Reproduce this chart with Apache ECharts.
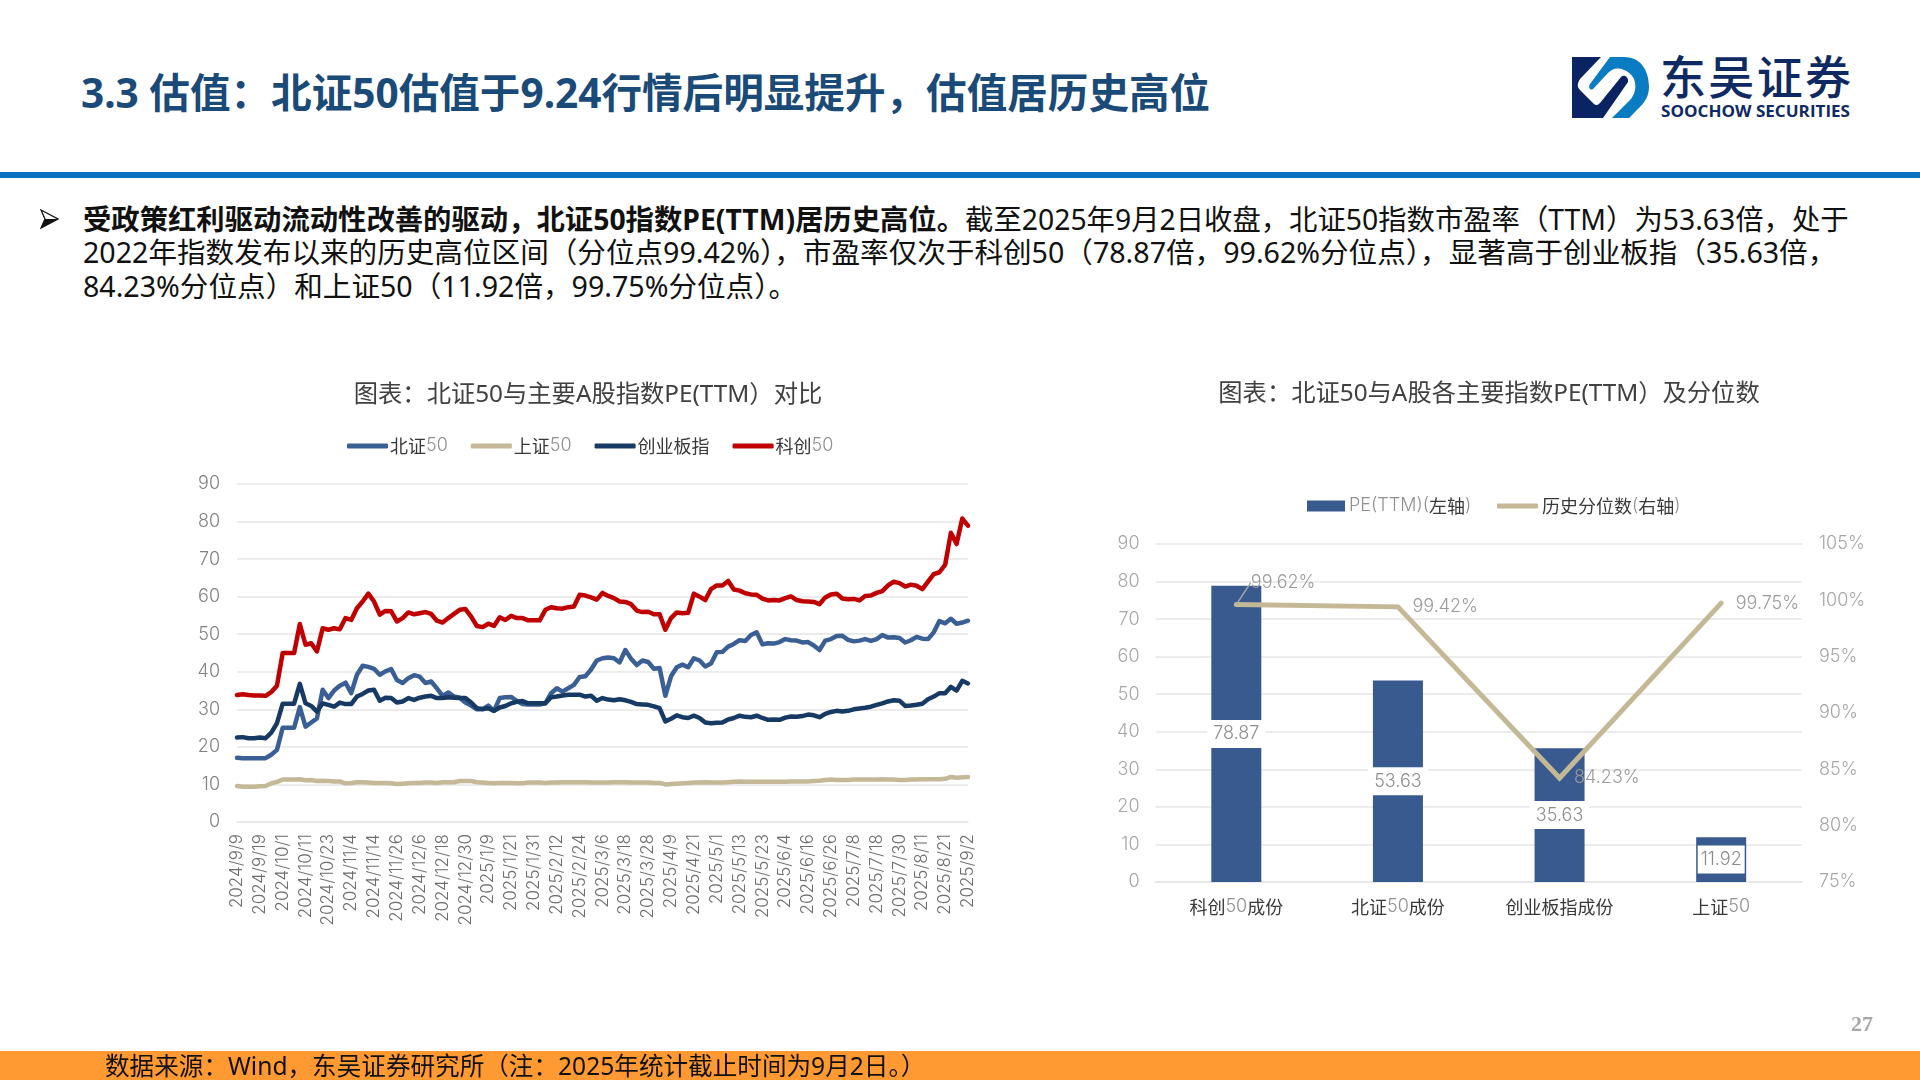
<!DOCTYPE html>
<html>
<head>
<meta charset="utf-8">
<script src="https://cdn.jsdelivr.net/npm/echarts@6/dist/echarts.min.js"></script>
<style>
html,body{margin:0;padding:0;background:#fff;width:1920px;height:1080px;overflow:hidden;}
.t{position:absolute;white-space:nowrap;font-family:"Noto Sans","Noto Sans CJK SC",sans-serif;color:#111;}
#chart{position:absolute;left:0;top:0;width:1920px;height:1080px;}
</style>
</head>
<body>
<div class="t" id="head" style="left:81px;top:64px;font-size:40.6px;line-height:58px;font-weight:700;color:#1a4a78;">3.3 估值：北证50估值于9.24行情后明显提升，估值居历史高位</div>
<div style="position:absolute;left:0;top:172px;width:1920px;height:6px;background:#0a70c0;"></div>
<svg style="position:absolute;left:1572px;top:54px" width="282" height="68" viewBox="0 0 282 68">
  <g transform="translate(0,3)">
    <path fill="#0a2463" d="M0,0 H29 L8,22 C5,27 5,30 8,33 L22,47 C24,49 26,48 28,46 L49,20 C52,17 57,20 56,25 L31,61 H0 Z"/>
    <path fill="#0a7cc1" d="M38,0 H52 C70,0 77,15 77,30 C77,42 70,48 62,56 L57,61 H40 L58,43 C66,35 66,18 52,13 C45,10 40,12 36,16 L21,32 C18,34 16,30 18,27 Z"/>
  </g>
  <text x="88" y="40" textLength="191" lengthAdjust="spacing" font-family="Noto Sans CJK SC" font-size="46" font-weight="500" fill="#0f2a62">东吴证券</text>
  <text x="89" y="63" textLength="189" lengthAdjust="spacingAndGlyphs" font-family="Open Sans" font-size="16.5" font-weight="700" fill="#0f2a62">SOOCHOW SECURITIES</text>
</svg>
<svg style="position:absolute;left:40px;top:209px" width="19" height="20" viewBox="0 0 19 20">
  <path d="M1,1 L18,10 L1,19 L5,10 Z" fill="#fff" stroke="#111" stroke-width="1.3" stroke-linejoin="miter"/>
  <path d="M1,19 L18,10 L5,10 Z" fill="#111"/>
</svg>
<div class="t" style="left:83px;top:202px;font-size:28.35px;line-height:34px;"><b>受政策红利驱动流动性改善的驱动，北证50指数PE(TTM)居历史高位。</b>截至2025年9月2日收盘，北证50指数市盈率（TTM）为53.63倍，处于</div>
<div class="t" style="left:83px;top:235px;font-size:28.6px;line-height:34px;">2022年指数发布以来的历史高位区间（分位点99.42%），市盈率仅次于科创50（78.87倍，99.62%分位点），显著高于创业板指（35.63倍，</div>
<div class="t" style="left:83px;top:269px;font-size:28.6px;line-height:34px;">84.23%分位点）和上证50（11.92倍，99.75%分位点）。</div>
<div id="chart"></div>
<div class="t" style="left:1851px;top:1010px;font-size:22px;line-height:28px;font-family:'Liberation Serif';font-weight:700;color:#a6a6a6;">27</div>
<div style="position:absolute;left:0;top:1051px;width:1920px;height:29px;background:#ff9a33;"></div>
<div class="t" style="left:105px;top:1049px;font-size:24.6px;line-height:34px;">数据来源：Wind，东吴证券研究所（注：2025年统计截止时间为9月2日。）</div>
<script>
const dates = [
  '2024/9/9','2024/9/11','2024/9/13','2024/9/17','2024/9/19','2024/9/23','2024/9/25','2024/9/27',
  '2024/10/1','2024/10/3','2024/10/7','2024/10/9','2024/10/11','2024/10/15','2024/10/17','2024/10/21',
  '2024/10/23','2024/10/25','2024/10/29','2024/10/31','2024/11/4','2024/11/6','2024/11/8','2024/11/12',
  '2024/11/14','2024/11/18','2024/11/20','2024/11/22','2024/11/26','2024/11/28','2024/12/2','2024/12/4',
  '2024/12/6','2024/12/10','2024/12/12','2024/12/16','2024/12/18','2024/12/20','2024/12/24','2024/12/26',
  '2024/12/30','2025/1/1','2025/1/3','2025/1/7','2025/1/9','2025/1/13','2025/1/15','2025/1/17',
  '2025/1/21','2025/1/23','2025/1/27','2025/1/29','2025/1/31','2025/2/4','2025/2/6','2025/2/10',
  '2025/2/12','2025/2/14','2025/2/18','2025/2/20','2025/2/24','2025/2/26','2025/2/28','2025/3/4',
  '2025/3/6','2025/3/10','2025/3/12','2025/3/14','2025/3/18','2025/3/20','2025/3/24','2025/3/26',
  '2025/3/28','2025/4/1','2025/4/3','2025/4/7','2025/4/9','2025/4/11','2025/4/15','2025/4/17',
  '2025/4/21','2025/4/23','2025/4/25','2025/4/29','2025/5/1','2025/5/5','2025/5/7','2025/5/9',
  '2025/5/13','2025/5/15','2025/5/19','2025/5/21','2025/5/23','2025/5/27','2025/5/29','2025/6/2',
  '2025/6/4','2025/6/6','2025/6/10','2025/6/12','2025/6/16','2025/6/18','2025/6/20','2025/6/24',
  '2025/6/26','2025/6/30','2025/7/2','2025/7/4','2025/7/8','2025/7/10','2025/7/14','2025/7/16',
  '2025/7/18','2025/7/22','2025/7/24','2025/7/28','2025/7/30','2025/8/1','2025/8/5','2025/8/7',
  '2025/8/11','2025/8/13','2025/8/15','2025/8/19','2025/8/21','2025/8/25','2025/8/27','2025/8/29',
  '2025/9/2'
];
const bz50 = [
  17.1,17.0,17.0,17.0,17.0,17.0,17.9,19.2,25.1,25.1,25.1,30.6,25.4,26.5,27.6,35.2,
  33.0,35.0,36.3,37.1,34.3,39.2,41.6,41.3,40.8,39.2,40.1,40.7,37.8,37.0,38.3,39.1,
  38.7,37.0,37.4,35.6,33.6,34.5,33.4,33.1,31.8,31.0,30.0,30.0,31.0,29.6,33.0,33.2,
  33.3,32.2,31.4,31.3,31.3,31.3,31.6,34.3,35.6,34.7,35.6,36.5,38.6,38.8,40.6,43.0,
  43.6,43.8,43.6,42.5,45.8,43.5,41.8,43.0,42.6,40.8,41.0,33.6,38.8,41.2,41.9,41.2,
  43.6,43.0,41.4,42.2,45.2,45.3,46.7,47.4,48.4,48.2,49.8,50.5,47.3,47.6,47.5,47.9,
  48.7,48.4,48.3,47.8,47.9,47.0,45.8,48.3,48.7,49.5,49.6,48.5,48.1,48.3,48.7,48.2,
  48.7,49.8,49.1,49.2,49.0,47.8,48.4,49.3,48.8,48.7,50.5,53.5,52.9,54.1,52.8,53.1,
  53.6
];
const sz50 = [
  9.6,9.4,9.4,9.4,9.5,9.6,10.3,10.7,11.3,11.3,11.3,11.4,11.1,11.2,10.9,11.0,
  10.9,10.8,10.8,10.3,10.4,10.6,10.6,10.5,10.4,10.4,10.4,10.3,10.1,10.2,10.3,10.4,
  10.4,10.5,10.5,10.4,10.6,10.6,10.6,10.9,10.9,10.9,10.6,10.5,10.4,10.3,10.4,10.4,
  10.4,10.3,10.3,10.5,10.5,10.5,10.4,10.5,10.5,10.6,10.6,10.6,10.6,10.6,10.5,10.5,
  10.5,10.5,10.6,10.6,10.6,10.5,10.5,10.5,10.5,10.4,10.4,10.0,10.1,10.2,10.3,10.4,
  10.5,10.5,10.6,10.5,10.5,10.5,10.6,10.7,10.8,10.7,10.7,10.7,10.7,10.7,10.7,10.7,
  10.7,10.8,10.8,10.8,10.8,10.9,11.0,11.2,11.3,11.2,11.2,11.2,11.3,11.3,11.3,11.3,
  11.3,11.4,11.3,11.3,11.2,11.2,11.3,11.3,11.4,11.4,11.4,11.4,11.5,12.0,11.8,11.9,
  12.0
];
const cybz = [
  22.5,22.6,22.3,22.3,22.5,22.3,23.8,26.3,31.5,31.5,31.5,36.8,31.6,30.9,29.4,31.6,
  31.2,30.7,31.8,31.4,31.4,33.4,34.1,35.0,35.2,32.3,33.1,33.0,31.8,32.1,33.0,32.5,
  33.1,33.4,33.6,33.0,33.0,33.2,33.1,33.0,33.0,31.8,30.3,30.1,30.3,29.6,30.5,30.9,
  31.6,32.0,32.2,31.6,31.6,31.6,31.6,33.2,33.4,33.7,33.9,33.9,33.9,33.4,33.6,32.3,
  33.0,32.6,32.4,32.7,32.4,32.0,31.4,31.3,31.2,30.8,30.3,26.8,27.5,28.4,27.9,27.7,
  28.3,27.7,26.5,26.3,26.4,26.5,27.3,27.7,28.3,28.0,27.9,28.3,27.7,27.2,27.3,27.2,
  27.8,28.1,28.0,28.2,28.6,28.4,27.9,28.8,29.3,29.6,29.4,29.6,30.0,30.2,30.4,30.7,
  31.2,31.6,32.1,32.4,32.3,30.9,31.0,31.2,31.5,32.7,33.4,34.3,34.3,36.0,35.0,37.6,
  36.9
];
const kc50 = [
  33.8,34.0,33.8,33.7,33.7,33.6,34.6,36.3,45.0,45.0,45.0,52.7,47.2,47.6,45.4,51.6,
  51.2,51.6,51.3,54.3,53.8,56.9,58.7,60.8,58.7,55.2,56.2,56.1,53.4,54.3,55.8,55.3,
  55.6,55.9,55.4,53.6,53.1,54.3,55.4,56.5,56.7,54.7,52.2,51.9,52.8,52.2,54.5,53.8,
  54.9,54.3,54.3,53.7,53.7,53.7,56.5,57.2,56.9,56.8,57.2,57.4,60.5,60.3,59.8,59.2,
  61.0,60.2,59.6,58.7,58.6,58.0,56.3,55.9,56.0,55.3,55.3,51.2,54.3,55.8,55.6,55.7,
  60.8,60.0,59.1,62.0,63.0,63.0,64.2,61.9,61.6,60.9,60.6,60.5,59.5,59.0,59.1,59.0,
  59.6,60.1,59.1,58.8,58.7,58.6,58.0,59.8,60.6,60.8,59.5,59.3,59.4,59.0,60.2,60.3,
  61.0,61.5,63.0,64.0,63.6,62.7,63.2,62.9,62.0,64.0,66.0,66.5,68.5,77.0,74.0,80.8,
  78.9
];
const indexCats = ['科创50成份','北证50成份','创业板指成份','上证50'];
const peValues = [78.87,53.63,35.63,11.92];
const pctValues = [99.62,99.42,84.23,99.75];

const FONT = 'Inter, "Noto Sans CJK SC", sans-serif';
const C_BLUE = '#3a5f94', C_NAVY = '#163a63', C_TAN = '#c4b896', C_RED = '#c00000', C_BAR = '#385a8e';
const C_GRID = '#e6e6e6';

// latin parts come out thin and pale, chinese parts darker
function mixed(s) {
  return s.replace(/[\x00-\x7f]+|[^\x00-\x7f]+/g, function (m) {
    return (/^[\x00-\x7f]/.test(m) ? '{d|' : '{c|') + m + '}';
  });
}
const richText = {
  c: {fontFamily: '"Noto Sans CJK SC"', fontSize: 18, color: '#383838', fontWeight: 400},
  d: {fontFamily: 'Inter', fontSize: 18, color: '#909090', fontWeight: 300}
};
const axisText = {fontFamily: FONT, fontWeight: 300};
const gridLine = {show: true, lineStyle: {color: C_GRID, width: 1.5}};

function lineSeries(name, data, color) {
  return {
    name: name, type: 'line', xAxisIndex: 0, yAxisIndex: 0, data: data,
    showSymbol: false, symbol: 'none', smooth: false, animation: false,
    lineStyle: {color: color, width: 4.5, cap: 'round', join: 'round'},
    itemStyle: {color: color}
  };
}

const chart = echarts.init(document.getElementById('chart'), null, {width: 1920, height: 1080});
chart.setOption({
  animation: false,
  backgroundColor: 'transparent',
  title: [
    {text: '图表：北证50与主要A股指数PE(TTM）对比', left: 583, top: 378, textAlign: 'center',
      textStyle: {fontFamily: '"Noto Sans","Noto Sans CJK SC"', fontSize: 24.3, fontWeight: 400, color: '#404040'}},
    {text: '图表：北证50与A股各主要指数PE(TTM）及分位数', left: 1484, top: 377, textAlign: 'center',
      textStyle: {fontFamily: '"Noto Sans","Noto Sans CJK SC"', fontSize: 24.3, fontWeight: 400, color: '#404040'}}
  ],
  legend: [
    {left: 342, top: 432, itemWidth: 41, itemHeight: 5, itemGap: 23, icon: 'roundRect',
      data: ['北证50','上证50','创业板指','科创50'],
      formatter: mixed, textStyle: {rich: richText, padding: [0, 0, 0, -3]}},
    {left: 1302, top: 492, itemWidth: 38, itemHeight: 11, icon: 'rect',
      data: ['PE(TTM)(左轴)'],
      formatter: mixed, textStyle: {rich: richText, padding: [0, 0, 0, -1]}},
    {left: 1492, top: 492, itemWidth: 41, itemHeight: 5, icon: 'roundRect',
      data: ['历史分位数(右轴)'],
      formatter: mixed, textStyle: {rich: richText, padding: [0, 0, 0, -1]}}
  ],
  grid: [
    {left: 237, top: 484, width: 731, height: 338},
    {left: 1155.5, top: 544, width: 646.5, height: 338}
  ],
  xAxis: [
    {type: 'category', gridIndex: 0, data: dates, boundaryGap: false,
      axisLine: {lineStyle: {color: C_GRID, width: 1.5}}, axisTick: {show: false},
      axisLabel: Object.assign({}, axisText, {interval: 3, rotate: 90, fontSize: 17, color: '#6e6e6e', margin: 12, padding: [5, 0, 0, 0]})},
    {type: 'category', gridIndex: 1, data: indexCats,
      axisLine: {lineStyle: {color: C_GRID, width: 1.5}}, axisTick: {show: false},
      axisLabel: {margin: 16, formatter: mixed, rich: richText}}
  ],
  yAxis: [
    {type: 'value', gridIndex: 0, min: 0, max: 90, interval: 10, splitLine: gridLine,
      axisLine: {show: false}, axisTick: {show: false},
      axisLabel: Object.assign({}, axisText, {fontSize: 18, color: '#808080', margin: 17, padding: [3, 0, 0, 0]})},
    {type: 'value', gridIndex: 1, min: 0, max: 90, interval: 10, splitLine: gridLine,
      axisLine: {show: false}, axisTick: {show: false},
      axisLabel: Object.assign({}, axisText, {fontSize: 18, color: '#a6a6a6', margin: 16, padding: [3, 0, 0, 0]})},
    {type: 'value', gridIndex: 1, position: 'right', min: 75, max: 105, interval: 5, splitLine: {show: false},
      axisLine: {show: false}, axisTick: {show: false},
      axisLabel: Object.assign({}, axisText, {fontSize: 18, color: '#a6a6a6', margin: 17, padding: [3, 0, 0, 0], formatter: '{value}%'})}
  ],
  series: [
    lineSeries('北证50', bz50, C_BLUE),
    lineSeries('上证50', sz50, C_TAN),
    lineSeries('创业板指', cybz, C_NAVY),
    lineSeries('科创50', kc50, C_RED),
    {
      name: 'PE(TTM)(左轴)', type: 'bar', xAxisIndex: 1, yAxisIndex: 1,
      data: peValues.map(function (v, i) {
        return i === 3 ? {value: v, label: {width: 47, align: 'center', padding: [6, 0, 4, 0]}} : v;
      }),
      barWidth: 50, itemStyle: {color: C_BAR},
      label: {show: true, position: 'inside', backgroundColor: '#fff', padding: [6, 6, 4, 6],
        fontFamily: 'Inter', fontWeight: 300, fontSize: 18, color: '#8c8c8c',
        formatter: function (p) { return peValues[p.dataIndex].toFixed(2); }}
    },
    {
      name: '历史分位数(右轴)', type: 'line', xAxisIndex: 1, yAxisIndex: 2,
      data: pctValues.map(function (v, i) { return i === 0 ? {value: v, labelLine: {show: true}} : v; }),
      symbol: 'circle', symbolSize: 1, showSymbol: true, itemStyle: {color: C_TAN},
      lineStyle: {color: C_TAN, width: 5, cap: 'round', join: 'miter'},
      label: {show: true, position: 'right', distance: 14, fontFamily: 'Inter', fontWeight: 300, fontSize: 18, color: '#9a9a9a',
        formatter: function (p) { return pctValues[p.dataIndex].toFixed(2) + '%'; }},
      labelLine: {show: false, lineStyle: {color: '#a6a6a6', width: 1.5}},
      labelLayout: function (p) { return p.dataIndex === 0 ? {dy: -22} : {}; }
    }
  ]
});
</script>
</body>
</html>
